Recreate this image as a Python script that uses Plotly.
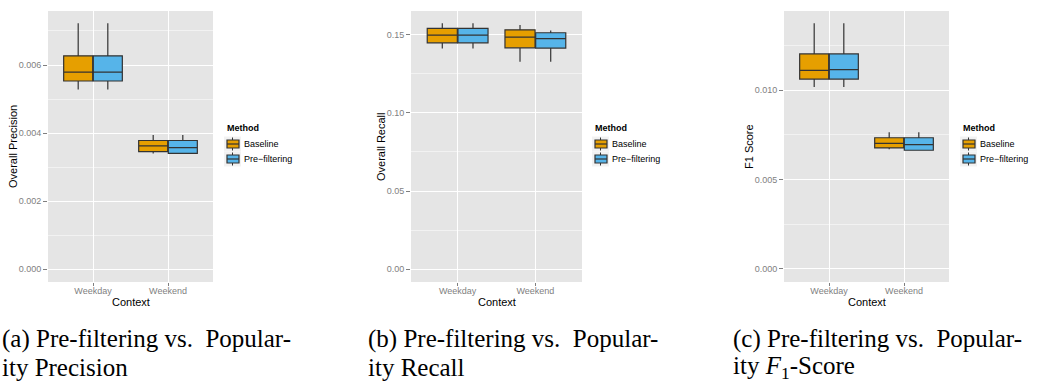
import plotly.graph_objects as go

# Categories and groups
contexts = ["Weekday", "Weekend"]
methods = ["Baseline", "Pre\u2212filtering"]
colors = {"Baseline": "#E69F00", "Pre\u2212filtering": "#56B4E9"}

# Five-number summaries per method, one value per context
prec_baseline_low = [0.00528, 0.00340]
prec_baseline_q1 = [0.00553, 0.00345]
prec_baseline_med = [0.00579, 0.00362]
prec_baseline_q3 = [0.00627, 0.00378]
prec_baseline_high = [0.00723, 0.00394]
prec_prefilter_low = [0.00528, 0.00339]
prec_prefilter_q1 = [0.00553, 0.00340]
prec_prefilter_med = [0.00579, 0.00357]
prec_prefilter_q3 = [0.00627, 0.00378]
prec_prefilter_high = [0.00723, 0.00394]

rec_baseline_low = [0.1411, 0.1326]
rec_baseline_q1 = [0.1447, 0.1415]
rec_baseline_med = [0.1496, 0.1483]
rec_baseline_q3 = [0.1539, 0.1530]
rec_baseline_high = [0.1571, 0.1560]
rec_prefilter_low = [0.1411, 0.1326]
rec_prefilter_q1 = [0.1447, 0.1413]
rec_prefilter_med = [0.1496, 0.1473]
rec_prefilter_q3 = [0.1539, 0.1511]
rec_prefilter_high = [0.1571, 0.1526]

f1_baseline_low = [0.01019, 0.00669]
f1_baseline_q1 = [0.01063, 0.00677]
f1_baseline_med = [0.01112, 0.00703]
f1_baseline_q3 = [0.01204, 0.00734]
f1_baseline_high = [0.01376, 0.00765]
f1_prefilter_low = [0.01019, 0.00662]
f1_prefilter_q1 = [0.01063, 0.00664]
f1_prefilter_med = [0.01116, 0.00695]
f1_prefilter_q3 = [0.01204, 0.00734]
f1_prefilter_high = [0.01376, 0.00765]

prec_ticks = [0.000, 0.002, 0.004, 0.006]
prec_ticklabels = ["0.000", "0.002", "0.004", "0.006"]
rec_ticks = [0.00, 0.05, 0.10, 0.15]
rec_ticklabels = ["0.00", "0.05", "0.10", "0.15"]
f1_ticks = [0.000, 0.005, 0.010]
f1_ticklabels = ["0.000", "0.005", "0.010"]

W, H = 1053, 385
FONT = "Liberation Sans, Arial, sans-serif"
SERIF = "Liberation Serif, DejaVu Serif, serif"
OUTLINE = "#333333"

panels = [
    dict(ytitle="Overall Precision", plot_x=(48, 213), ytitle_x=13, legend_x=226,
         ticks=prec_ticks, ticklabels=prec_ticklabels, yrange=(-0.000382, 0.007588), minor=0.001,
         stats={"Baseline": (prec_baseline_low, prec_baseline_q1, prec_baseline_med, prec_baseline_q3, prec_baseline_high),
                "Pre\u2212filtering": (prec_prefilter_low, prec_prefilter_q1, prec_prefilter_med, prec_prefilter_q3, prec_prefilter_high)}),
    dict(ytitle="Overall Recall", plot_x=(411, 582), ytitle_x=381, legend_x=594,
         ticks=rec_ticks, ticklabels=rec_ticklabels, yrange=(-0.0081, 0.165), minor=0.025,
         stats={"Baseline": (rec_baseline_low, rec_baseline_q1, rec_baseline_med, rec_baseline_q3, rec_baseline_high),
                "Pre\u2212filtering": (rec_prefilter_low, rec_prefilter_q1, rec_prefilter_med, rec_prefilter_q3, rec_prefilter_high)}),
    dict(ytitle="F1 Score", plot_x=(784, 949), ytitle_x=749, legend_x=962,
         ticks=f1_ticks, ticklabels=f1_ticklabels, yrange=(-0.000746, 0.014445), minor=0.0025,
         stats={"Baseline": (f1_baseline_low, f1_baseline_q1, f1_baseline_med, f1_baseline_q3, f1_baseline_high),
                "Pre\u2212filtering": (f1_prefilter_low, f1_prefilter_q1, f1_prefilter_med, f1_prefilter_q3, f1_prefilter_high)}),
]

plot_top, plot_bottom = 11, 282


def px_x(v):
    return v / W


def px_y(v):
    return 1 - v / H


fig = go.Figure()
layout = dict(
    width=W, height=H,
    margin=dict(l=0, r=0, t=0, b=0),
    paper_bgcolor="white", plot_bgcolor="#E5E5E5",
    boxmode="group", boxgap=0.21, boxgroupgap=0.02,
    font=dict(family=FONT, size=9, color="#000000"),
    showlegend=False,
    annotations=[], shapes=[],
)

for i, p in enumerate(panels, start=1):
    sfx = "" if i == 1 else str(i)
    for m in methods:
        low, q1, med, q3, high = p["stats"][m]
        fig.add_trace(go.Box(
            x=contexts, lowerfence=low, q1=q1, median=med, q3=q3, upperfence=high,
            name=m, fillcolor=colors[m], line=dict(color=OUTLINE, width=1.2),
            whiskerwidth=0, boxpoints=False,
            xaxis=f"x{sfx}", yaxis=f"y{sfx}", offsetgroup=m,
            hoverinfo="skip",
        ))
    x0, x1 = p["plot_x"]
    layout[f"xaxis{sfx}"] = dict(
        domain=[px_x(x0), px_x(x1)], anchor=f"y{sfx}",
        type="category", categoryorder="array", categoryarray=contexts,
        range=[-0.6, 1.6],
        showgrid=True, gridcolor="white", gridwidth=1.1,
        ticks="outside", ticklen=3, tickcolor="#7F7F7F", tickwidth=1,
        ticklabelstandoff=-3,
        tickfont=dict(family=FONT, size=9, color="#7F7F7F"),
        showline=False, zeroline=False, fixedrange=True,
    )
    layout[f"yaxis{sfx}"] = dict(
        domain=[px_y(plot_bottom), px_y(plot_top)], anchor=f"x{sfx}",
        range=list(p["yrange"]),
        tickmode="array", tickvals=p["ticks"], ticktext=p["ticklabels"],
        showgrid=True, gridcolor="white", gridwidth=1.1,
        minor=dict(dtick=p["minor"], tick0=0, showgrid=True, gridcolor="#F2F2F2", gridwidth=0.6, ticks=""),
        ticks="outside", ticklen=4, tickcolor="#7F7F7F", tickwidth=1,
        tickfont=dict(family=FONT, size=9, color="#7F7F7F"),
        showline=False, zeroline=False, fixedrange=True,
    )
    # axis titles
    layout["annotations"].append(dict(
        text="Context", xref="paper", yref="paper", x=px_x((x0 + x1) / 2), y=px_y(301.5),
        xanchor="center", yanchor="middle", showarrow=False,
        font=dict(family=FONT, size=11, color="#000000"),
    ))
    layout["annotations"].append(dict(
        text=p["ytitle"], xref="paper", yref="paper", x=px_x(p["ytitle_x"]), y=px_y(147),
        xanchor="center", yanchor="middle", showarrow=False, textangle=-90,
        font=dict(family=FONT, size=11, color="#000000"),
    ))

    # legend: title, boxplot key glyphs and labels
    lx = p["legend_x"]
    layout["annotations"].append(dict(
        text="<b>Method</b>", xref="paper", yref="paper", x=px_x(lx - 1), y=px_y(128.5),
        xanchor="left", yanchor="middle", showarrow=False,
        font=dict(family=FONT, size=9, color="#000000"),
    ))
    for k, m in enumerate(methods):
        cy = 144 + 15 * k
        # key background
        layout["shapes"].append(dict(
            type="rect", xref="paper", yref="paper", layer="above",
            x0=px_x(lx - 2), x1=px_x(lx + 15), y0=px_y(cy + 7.5), y1=px_y(cy - 7.5),
            fillcolor="#F2F2F2", line=dict(width=0),
        ))
        # whisker stub
        layout["shapes"].append(dict(
            type="line", xref="paper", yref="paper", layer="above",
            x0=px_x(lx + 6.5), x1=px_x(lx + 6.5), y0=px_y(cy + 6.5), y1=px_y(cy - 6.5),
            line=dict(color=OUTLINE, width=1),
        ))
        # box
        layout["shapes"].append(dict(
            type="rect", xref="paper", yref="paper", layer="above",
            x0=px_x(lx + 1), x1=px_x(lx + 13), y0=px_y(cy + 4), y1=px_y(cy - 4),
            fillcolor=colors[m], line=dict(color=OUTLINE, width=1.2),
        ))
        # median
        layout["shapes"].append(dict(
            type="line", xref="paper", yref="paper", layer="above",
            x0=px_x(lx + 1), x1=px_x(lx + 13), y0=px_y(cy), y1=px_y(cy),
            line=dict(color=OUTLINE, width=1.2),
        ))
        layout["annotations"].append(dict(
            text=m, xref="paper", yref="paper", x=px_x(lx + 16), y=px_y(cy),
            xanchor="left", yanchor="middle", showarrow=False,
            font=dict(family=FONT, size=9, color="#000000"),
        ))

# Sub-figure captions
captions = [
    (0, "(a) Pre-filtering vs.  Popular-", "ity Precision"),
    (366, "(b) Pre-filtering vs.  Popular-", "ity Recall"),
    (731, "(c) Pre-filtering vs.  Popular-", "ity <i>F</i><sub>1</sub>-Score"),
]
for cx, line1, line2 in captions:
    for text, cy in ((line1, 339), (line2, 367)):
        layout["annotations"].append(dict(
            text=text, xref="paper", yref="paper", x=px_x(cx), y=px_y(cy),
            xanchor="left", yanchor="middle", showarrow=False,
            font=dict(family=SERIF, size=25, color="#000000"),
        ))

fig.update_layout(**layout)
fig.write_html("out.html")
